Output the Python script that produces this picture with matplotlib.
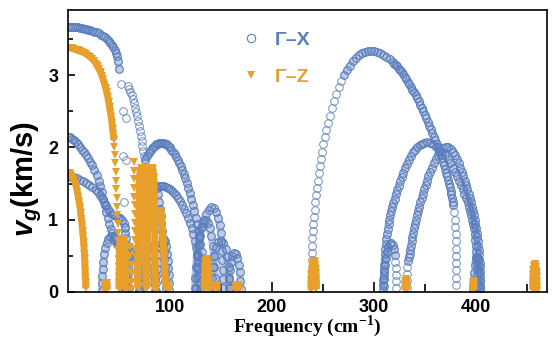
import numpy as np
import matplotlib
matplotlib.use("Agg")
import matplotlib.pyplot as plt
from matplotlib.lines import Line2D

plt.rcParams["font.family"] = ["Liberation Sans", "DejaVu Sans"]
plt.rcParams["mathtext.fontset"] = "custom"
plt.rcParams["mathtext.rm"] = "Liberation Serif:bold"
plt.rcParams["mathtext.it"] = "Liberation Sans:italic:bold"

blue = "#5a7dbd"
orange = "#e8a02a"

# ---- Gamma-X branches: (frequency cm^-1, group velocity km/s) ----
gx_b1 = [(0, 3.67), (2, 3.67), (4, 3.67), (6, 3.66), (8, 3.66), (10, 3.66), (12, 3.65), (14, 3.65),
         (16, 3.64), (18, 3.64), (20, 3.63), (22, 3.62), (24, 3.61), (26, 3.6), (28, 3.59), (30, 3.58),
         (32, 3.56), (34, 3.54), (36, 3.52), (38, 3.5), (40, 3.47), (41.5, 3.45), (43, 3.42), (44.5, 3.39),
         (46, 3.35), (47, 3.31), (48, 3.26), (49, 3.2), (50, 3.08)]
gx_b1_drop = [(52, 2.88), (54, 2.5), (57, 2.4), (54, 1.88), (57, 1.82), (55, 1.25), (56, 0.88)]
gx_b2 = [(58.8, 2.85), (60, 2.81), (61.2, 2.77), (62.4, 2.72), (63.6, 2.67), (64.8, 2.61), (65.9, 2.55),
         (67, 2.49), (68, 2.43), (69, 2.37), (69.9, 2.3), (70.8, 2.23), (71.6, 2.16), (72.3, 2.09),
         (73, 2.02), (73.7, 1.95), (74.4, 1.88), (75.1, 1.81)]
gx_b3 = [(76, 1.84), (77.5, 1.88), (79, 1.92), (80.5, 1.95), (82, 1.98), (83.5, 2.0), (85, 2.02),
         (86.5, 2.04), (88, 2.05), (89.5, 2.06), (91, 2.06), (92.5, 2.06), (94, 2.06), (95.5, 2.05),
         (97, 2.04), (98.5, 2.02), (100, 2.0), (101.5, 1.97), (103, 1.94), (104.5, 1.91), (106, 1.87),
         (107.5, 1.83), (109, 1.79), (110.5, 1.74), (112, 1.69), (113.5, 1.63), (115, 1.57), (116.5, 1.51),
         (118, 1.44), (119.5, 1.37), (121, 1.29), (122.5, 1.21), (124, 1.12), (125.3, 1.03), (126.6, 0.94),
         (127.8, 0.85), (129, 0.75), (130, 0.66), (131, 0.56), (131.8, 0.47), (132.5, 0.38), (133, 0.29),
         (133.4, 0.2), (133.7, 0.11), (133.9, 0.03)]
gx_b4 = [(80, 1.4), (82, 1.42), (84, 1.44), (86, 1.45), (88, 1.46), (90, 1.46), (92, 1.46), (94, 1.46),
         (96, 1.45), (98, 1.44), (100, 1.42), (102, 1.4), (104, 1.37), (106, 1.34), (108, 1.3), (110, 1.26),
         (112, 1.21), (114, 1.15), (116, 1.09), (118, 1.02), (120, 0.95), (121.5, 0.88), (123, 0.8),
         (124.3, 0.71), (125.5, 0.62), (126.5, 0.52), (127.3, 0.42), (128, 0.32), (128.5, 0.22),
         (128.9, 0.12), (129.1, 0.03)]
gx_b5 = [(0, 2.15), (2, 2.14), (4, 2.12), (6, 2.1), (8, 2.07), (10, 2.04), (12, 2.01), (14, 1.97),
         (16, 1.93), (18, 1.89), (20, 1.85), (22, 1.8), (24, 1.75), (26, 1.69), (28, 1.62), (30, 1.53),
         (31.5, 1.46), (33, 1.38), (34.5, 1.29), (36, 1.2), (37.5, 1.11), (39, 1.02), (40.5, 0.94),
         (42, 0.87), (43.5, 0.81), (45, 0.76), (46.5, 0.71), (48, 0.66)]
gx_b6 = [(0, 1.6), (3, 1.59), (6, 1.58), (9, 1.57), (12, 1.55), (15, 1.53), (18, 1.51), (21, 1.48),
         (24, 1.45), (27, 1.41), (29, 1.38), (31, 1.34), (33, 1.3), (35, 1.25), (37, 1.2), (39, 1.15),
         (41, 1.11), (43, 1.08), (45, 1.06), (47, 1.05), (49, 1.04), (51, 1.03), (53, 1.0), (54.5, 0.96),
         (55.5, 0.9), (56.3, 0.82), (57, 0.74), (57.6, 0.65), (58, 0.55), (58.4, 0.45), (58.7, 0.35),
         (59, 0.25), (59.2, 0.15), (59.4, 0.05)]
gx_l1 = [(33, 0.02), (33.3, 0.12), (33.7, 0.22), (34.2, 0.32), (34.8, 0.42), (35.6, 0.52), (36.6, 0.61),
         (38, 0.68), (39.6, 0.73), (41.3, 0.76), (43, 0.77), (44.7, 0.77), (46.4, 0.75), (48, 0.71),
         (49.4, 0.65), (50.6, 0.57), (51.5, 0.48), (52.2, 0.38), (52.7, 0.28), (53.1, 0.18), (53.4, 0.08)]
gx_l2 = [(56, 0.02), (56.3, 0.12), (56.8, 0.22), (57.5, 0.32), (58.5, 0.42), (59.8, 0.5), (61.3, 0.56),
         (63, 0.59), (64.7, 0.57), (66.2, 0.51), (67.4, 0.42), (68.3, 0.32), (68.9, 0.22), (69.3, 0.12),
         (69.6, 0.02)]
gx_l3 = [(71, 0.02), (71.3, 0.12), (71.8, 0.22), (72.5, 0.32), (73.4, 0.42), (74.6, 0.52), (76, 0.6),
         (77.7, 0.65), (79.4, 0.65), (81, 0.6), (82.3, 0.52), (83.3, 0.42), (84, 0.32), (84.5, 0.22),
         (84.8, 0.12), (85, 0.02)]
gx_l4 = [(87, 1.44), (88.2, 1.35), (89.2, 1.25), (90.1, 1.15), (90.9, 1.05), (91.6, 0.95), (92.3, 0.85),
         (92.9, 0.75), (93.5, 0.65), (94, 0.55), (94.5, 0.45), (94.9, 0.35), (95.3, 0.25), (95.6, 0.15),
         (95.9, 0.05)]
gx_l5 = [(86, 0.02), (86.3, 0.12), (86.8, 0.22), (87.5, 0.32), (88.4, 0.42), (89.5, 0.52), (90.8, 0.61),
         (92.3, 0.68), (93.9, 0.72), (95.4, 0.7), (96.6, 0.63), (97.5, 0.53), (98.1, 0.43), (98.6, 0.33),
         (98.9, 0.23), (99.1, 0.13), (99.2, 0.03)]
gx_r1 = [(126, 0.05), (126.3, 0.2), (126.8, 0.35), (127.6, 0.5), (128.7, 0.65), (130, 0.78), (131.6, 0.9),
         (133.5, 1.0), (135.6, 1.08), (138, 1.14), (140.5, 1.17), (143, 1.16), (145.3, 1.11), (147.2, 1.03),
         (148.7, 0.93), (149.8, 0.82), (150.6, 0.7), (151.1, 0.57), (151.4, 0.44), (151.6, 0.31),
         (151.7, 0.18), (151.8, 0.05)]
gx_r2 = [(124.5, 0.05), (124.8, 0.2), (125.4, 0.35), (126.3, 0.5), (127.5, 0.64), (129, 0.77),
         (130.8, 0.88), (132.8, 0.96), (135, 0.99), (137.2, 0.96), (139.2, 0.88), (140.8, 0.77),
         (142, 0.64), (142.9, 0.5), (143.5, 0.35), (143.9, 0.2), (144.1, 0.05)]
gx_r3 = [(157.8, 0.05), (158.1, 0.18), (158.8, 0.31), (159.8, 0.42), (161.2, 0.5), (163, 0.54),
         (164.8, 0.53), (166.3, 0.47), (167.6, 0.38), (168.5, 0.27), (169.1, 0.15), (169.4, 0.04)]
gx_r4 = [(141, 0.05), (141.4, 0.2), (142.2, 0.35), (143.5, 0.5), (145.3, 0.62), (147.5, 0.69), (150, 0.71),
         (152.5, 0.68), (154.6, 0.6), (156.3, 0.48), (157.5, 0.34), (158.2, 0.2), (158.5, 0.05)]
gx_b7_rise = [(239.0, 0.44), (239.3, 0.54), (239.6, 0.64), (239.9, 0.74), (240.3, 0.84), (240.8, 0.94),
              (241.4, 1.04), (242.0, 1.14), (242.7, 1.24), (243.4, 1.34), (244.2, 1.44), (245.0, 1.54),
              (245.9, 1.64), (246.9, 1.74), (248.0, 1.84), (249.2, 1.94), (250.5, 2.04), (251.9, 2.14),
              (253.4, 2.24), (255.0, 2.34), (256.8, 2.44), (258.7, 2.54), (260.8, 2.64), (263.1, 2.74),
              (265.6, 2.83), (268.3, 2.92)]
gx_b7 = [(271.0, 3.0), (273.8, 3.07), (276.6, 3.13), (279.5, 3.19),
         (282.5, 3.24), (285.5, 3.28), (288.5, 3.31), (291.5, 3.32), (294.5, 3.33), (297.5, 3.33),
         (300.5, 3.33), (303.5, 3.32), (306.5, 3.3), (309.5, 3.28), (312.5, 3.25), (315.5, 3.22),
         (318.5, 3.18), (320, 3.16), (321.5, 3.14), (323, 3.12), (324.5, 3.09), (326, 3.07), (327.5, 3.04),
         (329, 3.01), (330.5, 2.98), (332, 2.95), (333.5, 2.91), (335, 2.88), (336.5, 2.84), (338, 2.8),
         (339.5, 2.76), (341, 2.72), (342.5, 2.68), (344, 2.64), (345.5, 2.59), (347, 2.55), (348.5, 2.5),
         (350, 2.45), (351.5, 2.4), (353, 2.35), (354.5, 2.3), (356, 2.25), (357.5, 2.2), (359, 2.15),
         (360.5, 2.1), (362, 2.05), (363.3, 2.0), (364.5, 1.95), (365.8, 1.9), (367, 1.85), (368.2, 1.8),
         (369.3, 1.75), (370.3, 1.7), (371.3, 1.65), (372.2, 1.6), (373, 1.55), (373.9, 1.5), (374.7, 1.45),
         (375.4, 1.4), (376, 1.35), (376.7, 1.3), (377.3, 1.25), (377.8, 1.2)]
gx_b7_drop = [(378.7, 1.1), (379.4, 1.0), (380.0, 0.9), (380.4, 0.8), (380.7, 0.7), (380.9, 0.6),
              (381.0, 0.5), (381.1, 0.4), (381.1, 0.3), (381.1, 0.2), (381.1, 0.1)]
gx_b8 = [(309.0, 0.03), (309.2, 0.1), (309.4, 0.17), (309.7, 0.24), (310.0, 0.31), (310.3, 0.38),
         (310.7, 0.45), (311.1, 0.52), (311.5, 0.59), (312.0, 0.66), (312.5, 0.73), (313.1, 0.8),
         (313.8, 0.87), (314.5, 0.94), (315.3, 1.0), (316.2, 1.06), (317.1, 1.12), (318.1, 1.18),
         (319.2, 1.23), (320.4, 1.29), (321.6, 1.35), (322.9, 1.41), (324.3, 1.47), (325.8, 1.53),
         (327.3, 1.59), (328.9, 1.65), (330.6, 1.71), (332.4, 1.77), (334.3, 1.83), (336.3, 1.88),
         (338.4, 1.93), (340.6, 1.97), (342.8, 2.0), (345.1, 2.03), (347.4, 2.05), (349.7, 2.06),
         (352, 2.07), (355, 2.06), (358, 2.04), (361, 2.01), (364, 1.97), (367, 1.93), (370, 1.89),
         (372.5, 1.84), (375, 1.78), (377.3, 1.72), (379.5, 1.66), (381.6, 1.6), (383.6, 1.54),
         (385.5, 1.48), (387.3, 1.42), (389, 1.36), (390.6, 1.3), (392, 1.24), (393.3, 1.18), (394.5, 1.12),
         (395.6, 1.06), (396.6, 1.0), (397.5, 0.94), (398.3, 0.88), (399, 0.8), (399.6, 0.72), (400.1, 0.64),
         (400.5, 0.56), (400.8, 0.48), (401.1, 0.4), (401.4, 0.32), (401.6, 0.24), (401.8, 0.16),
         (402, 0.08), (402.1, 0.02)]
gx_b9_leg = [(332.6, 0.05), (332.7, 0.15), (332.8, 0.25), (333.0, 0.35)]
gx_b9 = [(333.4, 0.43), (334.2, 0.49),
         (335.1, 0.53), (335.8, 0.58), (336.5, 0.64), (337.2, 0.7), (338, 0.76), (338.8, 0.82),
         (339.7, 0.88), (340.6, 0.94), (341.5, 1.0), (342.5, 1.06), (343.5, 1.12), (344.6, 1.18),
         (345.7, 1.24), (346.9, 1.3), (348.1, 1.36), (349.4, 1.42), (350.8, 1.48), (352.2, 1.54),
         (353.7, 1.6), (355.3, 1.66), (357, 1.72), (358.8, 1.78), (360.8, 1.84), (363, 1.9), (365.4, 1.95),
         (368, 1.99), (370.5, 2.01), (373, 2.01), (375.5, 1.98), (377.8, 1.94), (379.8, 1.89),
         (381.6, 1.84), (383.3, 1.78), (384.9, 1.72), (386.4, 1.66), (387.8, 1.6), (389.2, 1.54),
         (390.5, 1.48), (391.8, 1.42), (393, 1.36), (394.2, 1.3), (395.3, 1.24), (396.3, 1.18),
         (397.3, 1.12), (398.2, 1.06), (399.0, 1.0), (399.8, 0.94), (400.5, 0.88), (401.1, 0.82),
         (401.7, 0.76), (402.2, 0.7), (402.6, 0.64), (403.0, 0.58), (403.3, 0.52), (403.6, 0.46),
         (403.8, 0.4), (404.0, 0.34), (404.1, 0.28), (404.2, 0.22), (404.3, 0.16), (404.4, 0.1),
         (404.5, 0.04)]
gx_b10 = [(309.6, 0.08), (309.9, 0.18), (310.4, 0.28), (311.1, 0.38), (312, 0.47), (313.1, 0.55),
          (314.4, 0.62), (315.9, 0.67), (317.4, 0.68), (318.7, 0.65), (319.7, 0.59), (320.5, 0.51)]
gx_b10_leg = [(321.1, 0.42), (321.5, 0.33), (321.8, 0.24), (322, 0.15), (322.1, 0.06)]
gx_b12 = [(397.6, 0.04), (397.9, 0.14), (398.5, 0.26), (399.3, 0.37), (400.3, 0.45), (401.4, 0.49),
          (402.4, 0.46), (403.1, 0.38), (403.6, 0.27), (403.9, 0.15), (404.0, 0.05)]

# ---- Gamma-Z branches ----
gz_o1 = [(0, 3.38), (2, 3.38), (4, 3.37), (6, 3.36), (8, 3.35), (10, 3.34), (12, 3.33), (14, 3.32),
         (16, 3.31), (18, 3.29), (20, 3.27), (22, 3.25), (24, 3.22), (26, 3.19), (27.5, 3.16), (29, 3.12),
         (30.5, 3.08), (32, 3.04), (33.3, 2.99), (34.6, 2.94), (35.8, 2.88), (37, 2.82), (38, 2.76),
         (39, 2.7), (39.9, 2.63), (40.8, 2.56), (41.6, 2.49), (42.4, 2.42), (43.1, 2.34), (43.8, 2.26),
         (44.4, 2.18), (45, 2.1)]
gz_o1_drop = [(45.5, 2.01), (46, 1.9), (46.4, 1.78), (46.8, 1.66), (47.1, 1.54),
              (47.4, 1.42), (47.7, 1.3), (48, 1.18), (48.3, 1.06), (48.6, 0.94), (48.9, 0.82), (49.2, 0.7),
              (49.5, 0.58), (49.8, 0.46), (50.1, 0.34), (50.3, 0.22), (50.5, 0.1)]
gz_o2 = [(64.3, 1.8), (64.5, 1.68), (64.7, 1.56), (64.9, 1.44), (65.1, 1.32), (65.3, 1.2), (65.5, 1.08),
         (65.7, 0.96), (65.9, 0.84), (66.1, 0.72), (66.3, 0.6), (66.5, 0.48), (66.7, 0.36), (66.9, 0.24),
         (67.1, 0.12)]
gz_o2b = [(61, 0.62), (61.2, 0.5), (61.4, 0.38), (61.6, 0.26), (61.8, 0.14), (62, 0.04)]
gz_o3a = [(68.6, 0.05), (68.7, 0.15), (68.8, 0.25), (68.9, 0.35), (69.0, 0.45), (69.1, 0.55), (69.2, 0.65),
          (69.3, 0.75), (69.4, 0.85), (69.5, 0.95), (69.6, 1.05), (69.7, 1.15), (69.8, 1.25), (69.9, 1.35),
          (70.0, 1.45), (70.2, 1.55), (70.5, 1.63), (71, 1.68), (71.7, 1.71), (72.5, 1.72), (73.3, 1.72),
          (74.1, 1.71), (74.7, 1.68), (75.1, 1.62), (75.3, 1.55), (75.4, 1.45), (75.5, 1.35), (75.6, 1.25),
          (75.7, 1.15), (75.8, 1.05), (75.9, 0.95), (76.0, 0.85), (76.1, 0.75), (76.2, 0.65), (76.3, 0.55),
          (76.4, 0.45), (76.5, 0.35), (76.6, 0.25), (76.7, 0.15), (76.8, 0.05)]
gz_o3b = [(77.3, 0.05), (77.4, 0.15), (77.5, 0.25), (77.6, 0.35), (77.7, 0.45), (77.8, 0.55), (77.9, 0.65),
          (78.0, 0.75), (78.1, 0.85), (78.2, 0.95), (78.3, 1.05), (78.4, 1.15), (78.5, 1.25), (78.6, 1.35),
          (78.7, 1.45), (78.9, 1.55), (79.2, 1.63), (79.8, 1.69), (80.6, 1.72), (81.5, 1.72), (82.4, 1.72),
          (83.2, 1.7), (83.8, 1.65), (84.2, 1.58), (84.4, 1.5), (84.5, 1.4), (84.6, 1.3), (84.7, 1.2),
          (84.8, 1.1), (84.9, 1.0), (85.0, 0.9), (85.1, 0.8), (85.2, 0.7), (85.3, 0.6), (85.4, 0.5),
          (85.5, 0.4), (85.6, 0.3), (85.7, 0.2), (85.8, 0.1), (85.9, 0.03)]
gz_o3c = [(91.5, 1.12), (92, 1.02), (92.5, 0.92), (92.9, 0.82), (93.3, 0.72), (93.7, 0.62), (94.1, 0.52),
          (94.5, 0.42), (94.9, 0.32), (95.3, 0.22), (95.7, 0.12), (96.5, 0.08), (97.5, 0.1), (98.5, 0.08),
          (99, 0.03)]
gz_o4 = [(0, 1.65), (1.5, 1.64), (3, 1.62), (4.5, 1.59), (6, 1.55), (7.2, 1.5), (8.3, 1.45), (9.3, 1.38),
         (10.2, 1.31), (11, 1.24), (11.8, 1.17), (12.5, 1.09), (13.2, 1.01), (13.8, 0.93), (14.4, 0.85),
         (14.9, 0.77), (15.4, 0.69), (15.8, 0.61), (16.1, 0.53), (16.4, 0.45), (16.7, 0.37), (16.9, 0.29),
         (17.1, 0.21), (17.3, 0.13), (17.5, 0.05)]
gz_o5 = [(36.5, 0.03), (36.6, 0.08), (37, 0.12), (37.6, 0.13), (38.2, 0.12), (38.5, 0.08), (38.6, 0.03)]
gz_o6 = [(50.0, 0.04), (50.1, 0.12), (50.2, 0.2), (50.3, 0.28), (50.4, 0.36), (50.5, 0.44), (50.6, 0.52),
         (50.8, 0.6), (51.1, 0.66), (51.6, 0.7), (52.3, 0.73), (53.1, 0.73), (53.9, 0.73), (54.6, 0.72),
         (55.2, 0.69), (55.6, 0.64), (55.9, 0.57), (56.0, 0.5), (56.1, 0.42), (56.2, 0.34), (56.3, 0.26),
         (56.4, 0.18), (56.5, 0.1), (56.6, 0.03)]
gz_o7 = [(133.8, 0.04), (133.9, 0.12), (134, 0.2), (134.1, 0.28), (134.3, 0.35), (134.7, 0.41),
         (135.3, 0.44), (136, 0.45), (136.7, 0.44), (137.3, 0.41), (137.7, 0.35), (137.9, 0.28), (138, 0.2),
         (138.1, 0.12), (138.2, 0.04)]
gz_o7b = [(144.5, 0.03), (144.8, 0.08), (145.5, 0.09), (146.1, 0.07), (146.3, 0.03)]
gz_o7c = [(164.2, 0.03), (164.5, 0.08), (165.5, 0.1), (166.5, 0.1), (167.5, 0.08), (167.8, 0.03)]
gz_o8 = [(238.4, 0.03), (238.5, 0.1), (238.6, 0.17), (238.8, 0.24), (239.1, 0.31), (239.6, 0.37),
         (240.3, 0.41), (241.1, 0.43), (241.9, 0.42), (242.6, 0.38), (243.1, 0.32), (243.4, 0.25),
         (243.6, 0.18), (243.7, 0.11), (243.8, 0.04)]
gz_o9 = [(330.5, 0.03), (330.6, 0.09), (330.9, 0.15), (331.5, 0.18), (332.1, 0.15), (332.4, 0.09),
         (332.5, 0.03)]
gz_o10 = [(396.9, 0.03), (397, 0.09), (397.4, 0.14), (397.9, 0.15), (398.3, 0.13), (398.5, 0.08),
          (398.6, 0.03)]
gz_o11 = [(455.9, 0.03), (456, 0.1), (456.1, 0.17), (456.3, 0.24), (456.7, 0.31), (457.3, 0.36),
          (458, 0.39), (458.7, 0.38), (459.3, 0.34), (459.7, 0.28), (459.9, 0.21), (460, 0.14),
          (460.1, 0.07), (460.1, 0.02)]

# densely sampled stretches (markers pile up into a band) vs. sparse ones
gx_dense = [gx_b1, gx_b3, gx_b4, gx_b5, gx_b6, gx_l1, gx_l2, gx_l3, gx_l4, gx_l5,
            gx_r1, gx_r2, gx_r3, gx_r4, gx_b7, gx_b8, gx_b9, gx_b10, gx_b12]
gx_sparse = [gx_b1_drop, gx_b2, gx_b7_rise, gx_b7_drop, gx_b9_leg, gx_b10_leg]
gz_dense = [gz_o1, gz_o3a, gz_o3b, gz_o3c, gz_o4, gz_o5, gz_o6, gz_o7, gz_o7b, gz_o7c,
            gz_o8, gz_o9, gz_o10, gz_o11]
gz_sparse = [gz_o1_drop, gz_o2, gz_o2b]

fig = plt.figure(figsize=(5.52, 3.43), dpi=100)
ax = fig.add_axes([68 / 552, 1 - 292 / 343, 479 / 552, 282 / 343])

for br in gx_dense:
    f, v = np.array(br).T
    ax.plot(f, v, "-", color=blue, lw=5.5, alpha=0.4, solid_capstyle="round", solid_joinstyle="round")
    ax.plot(f, v, "o", ms=5.5, mfc="none", mec=blue, mew=0.8, ls="none")
for br in gx_sparse:
    f, v = np.array(br).T
    ax.plot(f, v, "o", ms=5.5, mfc="none", mec=blue, mew=0.7, ls="none", alpha=0.85)
for br in gz_dense:
    f, v = np.array(br).T
    ax.plot(f, v, "-", color=orange, lw=5, solid_capstyle="butt", solid_joinstyle="round")
    ax.plot(f, v, "v", ms=6, color=orange, mew=0, ls="none")
for br in gz_sparse:
    f, v = np.array(br).T
    ax.plot(f, v, "v", ms=6, color=orange, mew=0, ls="none")

ax.set_xlim(0, 470)
ax.set_ylim(0, 3.9)
ax.set_xticks([100, 200, 300, 400])
ax.set_xticks([50, 150, 250, 350, 450], minor=True)
ax.set_yticks([0, 1, 2, 3])
ax.set_yticks([0.5, 1.5, 2.5, 3.5], minor=True)
ax.tick_params(axis="both", which="both", direction="in", top=False, right=False, width=1.2)
ax.tick_params(axis="x", which="major", length=7, labelsize=13, pad=5)
ax.tick_params(axis="x", which="minor", length=6)
ax.tick_params(axis="y", which="major", length=5, labelsize=13, pad=7)
ax.tick_params(axis="y", which="minor", length=3.5)
for lab in ax.get_xticklabels() + ax.get_yticklabels():
    lab.set_fontweight("bold")
for s in ax.spines.values():
    s.set_linewidth(1.2)

ax.set_xlabel(r"Frequency (cm$^{-1}$)", family="Liberation Serif", fontweight="bold",
              fontsize=14, labelpad=-1.5)
ax.set_ylabel(r"$v_g$(km/s)", fontweight="bold", fontsize=21)
ax.yaxis.set_label_coords(-0.05, 0.40)

handles = [Line2D([], [], marker="o", ls="none", mfc="none", mec=blue, ms=6, mew=0.8),
           Line2D([], [], marker="v", ls="none", color=orange, ms=6, mew=0)]
ax.legend(handles, ["Γ–X", "Γ–Z"], loc="upper left", bbox_to_anchor=(0.345, 0.951),
          frameon=False, prop={"weight": "bold", "size": 14}, labelcolor=[blue, orange],
          handlelength=1.0, handletextpad=0.74, labelspacing=1.0, borderaxespad=0)

fig.savefig("out.png", dpi=100)
